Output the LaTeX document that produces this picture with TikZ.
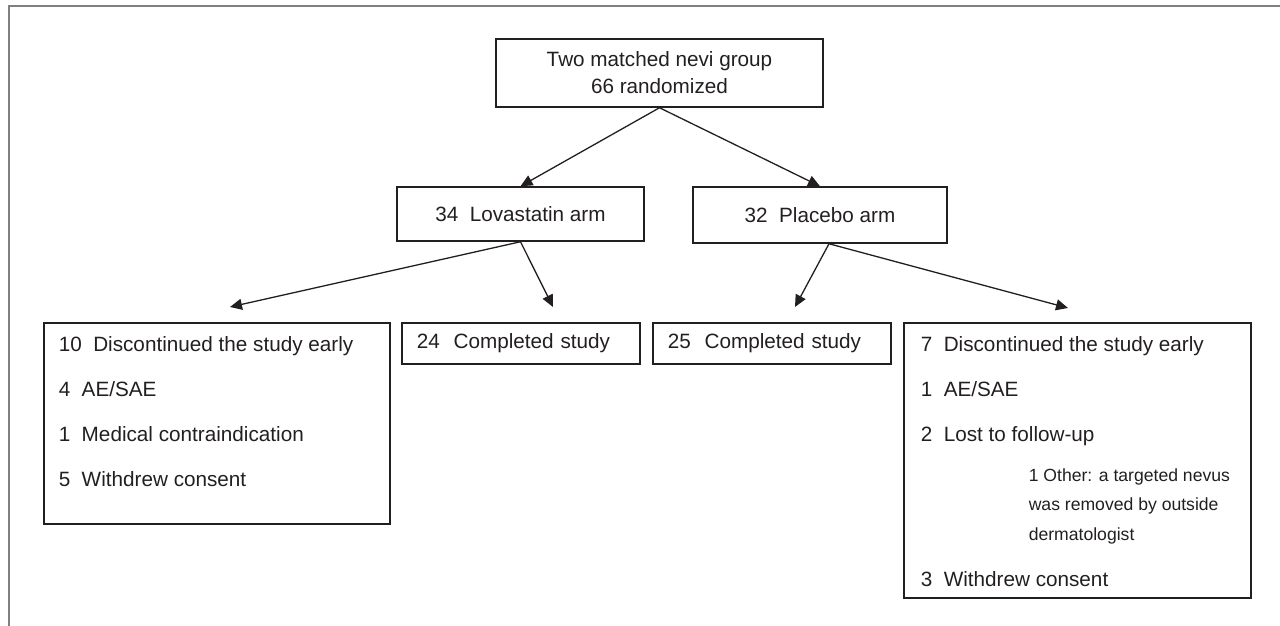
\documentclass[tikz,border=0pt]{standalone}
\usepackage{fontspec}
\setmainfont{Liberation Sans}
\usetikzlibrary{arrows.meta,positioning}
\definecolor{FrameGray}{RGB}{128,128,132}
\definecolor{InkBlack}{RGB}{35,31,32}
\newcommand\boxfont{\fontsize{10.35}{14.75}\selectfont}
\newcommand\notefont{\fontsize{8.8}{14.75}\selectfont}
\tikzset{
	box/.style={draw=InkBlack, line width=0.75pt, inner sep=0pt, text=InkBlack, font=\boxfont},
	listbox/.style={box, anchor=north west, inner ysep=0pt},
	donebox/.style={box, anchor=north west, inner xsep=7.5pt, text width=104pt, align=left, minimum height=20.5pt},
	arr/.style={draw=InkBlack, line width=0.65pt, -{Triangle[length=6pt,width=5.5pt]}}
}

\begin{document}
\begin{tikzpicture}[x=0.5pt, y=-0.5pt]
		\useasboundingbox (0,0) rectangle (1280,626);
		% open frame, top and left only
		\draw[FrameGray, line width=1.2pt] (9,626) -- (9,6) -- (1280,6);
		
		% randomisation and the two arms
		\node[box, minimum width=163.5pt, minimum height=34pt, align=center, font=\fontsize{10.35}{13.5}\selectfont] (rand) at (659.5,73) {Two matched nevi group\\66 randomized};
		\node[box, minimum width=123.5pt, minimum height=27pt] (lova) at (520.5,214) {34~~Lovastatin arm};
		\node[box, minimum width=127pt, minimum height=28pt] (plac) at (820,215) {32~~Placebo arm};
		
		% outcomes
		\node[listbox, inner xsep=7.5pt] (drop1) at (43,322) {\parbox[c][100.5pt][t]{158pt}{\raggedright
				\rule{0pt}{14.2pt}10~~Discontinued the study early\\[7.75pt]
				4~~AE/SAE\\[7.75pt]
				1~~Medical contraindication\\[7.75pt]
				5~~Withdrew consent}};
		\node[donebox] (comp1) at (401,322) {24~~Completed study};
		\node[donebox] (comp2) at (652,322) {25~~Completed study};
		\node[listbox, inner xsep=8.5pt] (drop2) at (903,322) {\parbox[c][137.5pt][t]{156.5pt}{\raggedright
				\rule{0pt}{14.2pt}7~~Discontinued the study early\\[7.75pt]
				1~~AE/SAE\\[7.75pt]
				2~~Lost to follow-up\\[5.25pt]
				\notefont\hspace*{54pt}1 Other: a targeted nevus\\
				\hspace*{54pt}was removed by outside\\
				\hspace*{54pt}dermatologist\\[8.25pt]
				\boxfont 3~~Withdrew consent}};
		
		% arrow ends above the outcome boxes
		\coordinate (lt1) at (230,307);
		\coordinate (lt2) at (553,307);
		\coordinate (pt1) at (795,307);
		\coordinate (pt2) at (1068,308);
		
		\draw[arr] (rand.south) -- (lova.north);
		\draw[arr] (rand.south) -- (plac.north);
		\draw[arr] (lova.south) -- (lt1);
		\draw[arr] (lova.south) -- (lt2);
		\draw[arr] ([xshift=4.5pt]plac.south) -- (pt1);
		\draw[arr] ([xshift=4.5pt]plac.south) -- (pt2);
	\end{tikzpicture}
\end{document}
